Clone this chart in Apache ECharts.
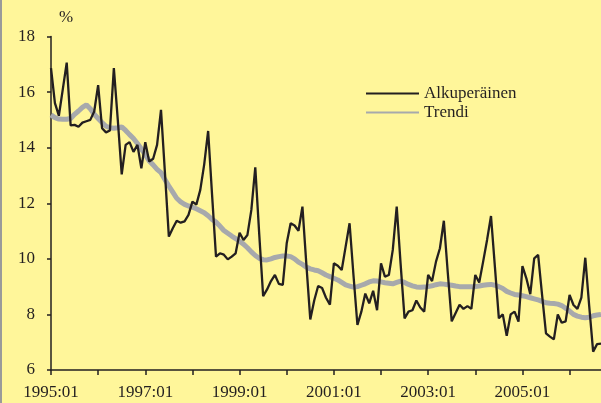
<!DOCTYPE html>
<html>
<head>
<meta charset="utf-8">
<script src="https://cdn.jsdelivr.net/npm/echarts@6/dist/echarts.min.js"></script>
<style>
  html, body { margin: 0; padding: 0; background: #fff69a; }
  #chart { width: 601px; height: 403px; }
</style>
</head>
<body>
<div id="chart"></div>
<script>
// kuukaudet 1995:01 ... 2006:09
const startYear = 1995
const monthCount = 141
const months = []
for (let i = 0; i < monthCount; i++) {
  const y = startYear + Math.floor(i / 12)
  const m = (i % 12) + 1
  months.push(y + ':' + (m < 10 ? '0' + m : m))
}

// Alkuperäinen (%)
const original = [
  16.86, 15.6, 15.15, 16.1, 17.06, 14.8, 14.82, 14.75, 14.9, 14.95, 15.0, 15.3,
  16.25, 14.7, 14.55, 14.62, 16.86, 15.0, 13.04, 14.1, 14.2, 13.85, 14.1, 13.26,
  14.2, 13.5, 13.6, 14.1, 15.36, 13.1, 10.8, 11.1, 11.37, 11.3, 11.35, 11.58,
  12.06, 11.95, 12.48, 13.4, 14.6, 12.3, 10.08, 10.2, 10.15, 9.98, 10.08, 10.2,
  10.94, 10.68, 10.86, 11.76, 13.29, 10.9, 8.66, 8.9, 9.2, 9.42, 9.1, 9.06,
  10.56, 11.28, 11.2, 11.01, 11.88, 9.8, 7.82, 8.5, 9.02, 8.95, 8.6, 8.35,
  9.84, 9.75, 9.6, 10.44, 11.28, 9.4, 7.62, 8.1, 8.75, 8.4, 8.85, 8.15,
  9.84, 9.36, 9.42, 10.32, 11.88, 9.8, 7.86, 8.1, 8.15, 8.5, 8.25, 8.1,
  9.42, 9.2, 9.9, 10.38, 11.37, 9.5, 7.75, 8.05, 8.35, 8.2, 8.3, 8.2,
  9.42, 9.15, 9.9, 10.68, 11.54, 9.7, 7.86, 8.0, 7.23, 8.0, 8.1, 7.74,
  9.74, 9.3, 8.73, 10.02, 10.14, 8.7, 7.32, 7.2, 7.1, 8.0, 7.7, 7.75,
  8.7, 8.34, 8.2, 8.6, 10.04, 8.3, 6.66, 6.93, 6.95
]

// Trendi (%)
const trend = [
  15.18, 15.08, 15.03, 15.02, 15.02, 15.05, 15.2, 15.32, 15.45, 15.54, 15.4, 15.2,
  15.05, 14.9, 14.77, 14.72, 14.7, 14.72, 14.75, 14.62, 14.47, 14.33, 14.15, 13.95,
  13.75, 13.52, 13.38, 13.22, 13.1, 12.85, 12.62, 12.4, 12.18, 12.05, 11.96, 11.9,
  11.86, 11.8, 11.73, 11.66, 11.55, 11.42, 11.32, 11.18, 11.02, 10.92, 10.82, 10.73,
  10.63, 10.53, 10.4, 10.25, 10.12, 10.02, 9.97, 9.96, 10.0, 10.05, 10.08, 10.1,
  10.1, 10.08, 10.0, 9.88, 9.8, 9.7, 9.64, 9.6, 9.57, 9.5, 9.42, 9.36,
  9.3, 9.24, 9.15, 9.06, 9.02, 8.98, 9.0, 9.05, 9.1, 9.17, 9.21, 9.2,
  9.17, 9.14, 9.12, 9.1, 9.15, 9.2, 9.15, 9.08, 9.03, 8.99, 8.98, 8.99,
  9.0, 9.03, 9.07, 9.1, 9.09, 9.07, 9.05, 9.02, 9.0, 9.0, 9.0, 9.0,
  9.0, 9.02, 9.05, 9.07, 9.08, 9.05, 9.0, 8.93, 8.83, 8.77, 8.72, 8.7,
  8.67, 8.64, 8.6, 8.56, 8.52, 8.47, 8.42, 8.4, 8.39, 8.37, 8.32, 8.22,
  8.12, 8.0, 7.94, 7.9, 7.88, 7.9, 7.95, 7.98, 8.0
]

const ink = '#231f20'
const grey = '#a7a9ac'
const font = 'Liberation Serif'

const chart = echarts.init(document.getElementById('chart'))
chart.setOption({
  backgroundColor: '#fff69a',
  animation: false,
  textStyle: { fontFamily: font, color: ink },
  grid: { left: 51, right: 0, top: 36.5, bottom: 33 },
  graphic: [
    { type: 'rect', left: 0, top: 0, shape: { width: 2, height: 403 }, style: { fill: '#9a9a9a' } },
    { type: 'text', left: 59, top: 9, style: { text: '%', font: '17px "Liberation Serif"', fill: ink } }
  ],
  legend: {
    orient: 'vertical',
    left: 360,
    top: 80,
    itemWidth: 53,
    itemHeight: 14,
    itemGap: 2,
    itemStyle: { opacity: 0 },
    textStyle: { fontFamily: font, fontSize: 17, color: ink },
    data: ['Alkuperäinen', 'Trendi']
  },
  xAxis: {
    type: 'category',
    data: months,
    boundaryGap: false,
    axisLine: { lineStyle: { color: ink, width: 1.5 } },
    axisTick: { interval: 11, length: 5, lineStyle: { color: ink, width: 1.5 } },
    axisLabel: { interval: 23, margin: 14, fontFamily: font, fontSize: 17, color: ink }
  },
  yAxis: {
    type: 'value',
    min: 6,
    max: 18,
    interval: 2,
    axisLine: { show: true, lineStyle: { color: ink, width: 1.5 } },
    axisTick: { show: true, length: 4, lineStyle: { color: ink, width: 1.5 } },
    axisLabel: { margin: 16, fontFamily: font, fontSize: 17, color: ink },
    splitLine: { show: false }
  },
  series: [
    {
      name: 'Trendi',
      type: 'line',
      data: trend,
      symbol: 'none',
      color: grey,
      lineStyle: { color: grey, width: 5 },
      z: 2
    },
    {
      name: 'Alkuperäinen',
      type: 'line',
      data: original,
      symbol: 'none',
      color: ink,
      lineStyle: { color: ink, width: 2.3 },
      z: 3
    }
  ]
})
</script>
</body>
</html>
